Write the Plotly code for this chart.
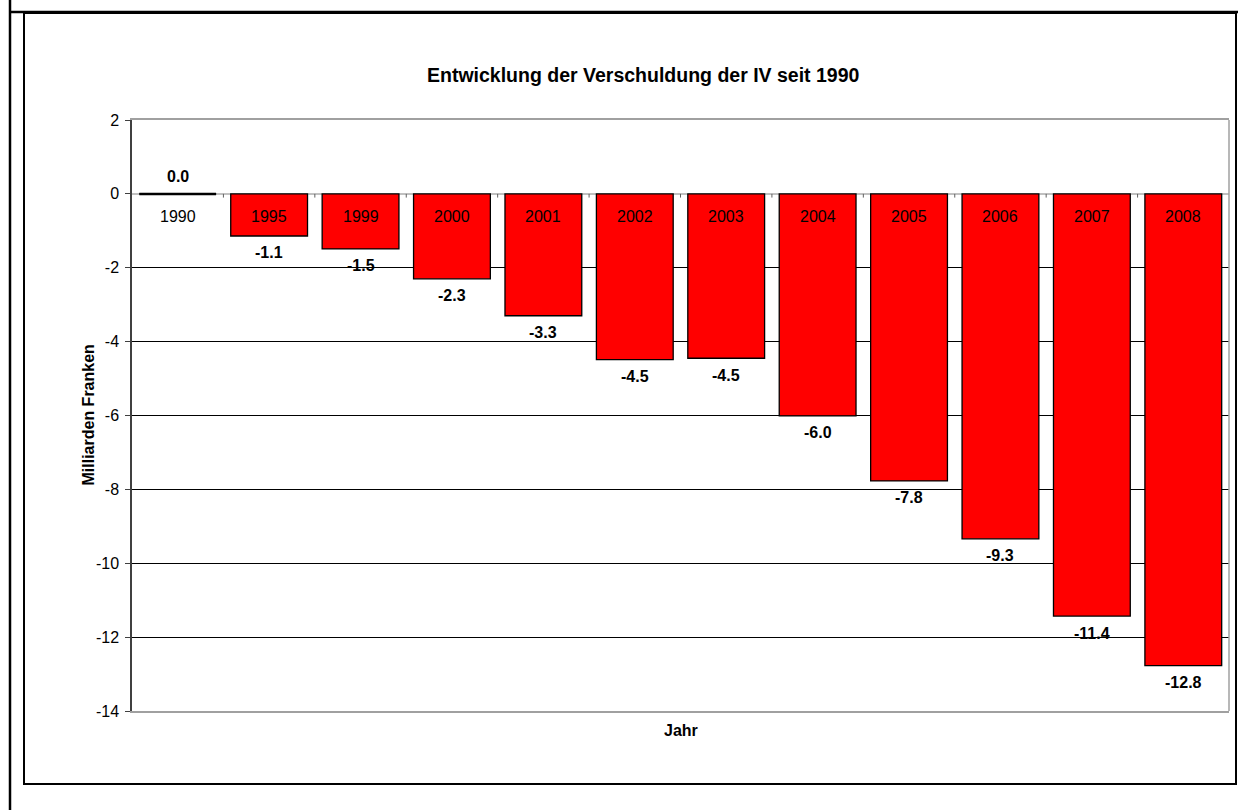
import plotly.graph_objects as go

categories = ["1990", "1995", "1999", "2000", "2001", "2002", "2003", "2004", "2005", "2006", "2007", "2008"]
values = [0.0, -1.14, -1.49, -2.3, -3.3, -4.49, -4.45, -6.01, -7.77, -9.34, -11.43, -12.77]
value_labels = ["0.0", "-1.1", "-1.5", "-2.3", "-3.3", "-4.5", "-4.5", "-6.0", "-7.8", "-9.3", "-11.4", "-12.8"]
y_ticks = [2, 0, -2, -4, -6, -8, -10, -12, -14]

FONT = "Liberation Sans, Arial, sans-serif"

FW, FH = 1238, 810

fig = go.Figure()
fig.add_trace(go.Bar(
    x=list(range(len(categories))),
    y=values,
    marker=dict(color="#ff0000", line=dict(color="black", width=1.3)),
    width=0.84,
    hoverinfo="skip",
))

# category labels inside bars
for i, c in enumerate(categories):
    fig.add_annotation(x=i, y=0, text=c, showarrow=False, yshift=-23,
                       font=dict(family=FONT, size=16, color="black"))
# value labels
for i, (v, t) in enumerate(zip(values, value_labels)):
    fig.add_annotation(x=i, y=v, text="<b>" + t + "</b>", showarrow=False,
                       yshift=17 if v >= 0 else -17,
                       font=dict(family=FONT, size=16, color="black"))

# zero-height bar shown as a line for 1990
for i, v in enumerate(values):
    if v == 0:
        fig.add_shape(type="line", xref="x", yref="y", x0=i - 0.42, x1=i + 0.42, y0=0, y1=0,
                      line=dict(color="black", width=2.5))

# category boundary ticks on zero line
for i in range(len(categories) - 1):
    fig.add_shape(type="line", xref="x", yref="y", x0=i + 0.5, x1=i + 0.5, y0=0, y1=-0.1,
                  line=dict(color="#606060", width=1))

L, R, T, B = 132, 1229, 120, 711
W, H = R - L, B - T
def px(x):
    return (x - L) / W
def py(y):
    return (B - y) / H

# frames
fig.add_shape(type="line", xref="paper", yref="paper", x0=px(10), x1=px(10), y0=py(0), y1=py(810),
              line=dict(color="black", width=2.5))
fig.add_shape(type="line", xref="paper", yref="paper", x0=px(10), x1=px(1238), y0=py(12), y1=py(12),
              line=dict(color="black", width=2.5))
fig.add_shape(type="rect", xref="paper", yref="paper", x0=px(24), x1=px(1236), y0=py(13), y1=py(784),
              line=dict(color="black", width=2))
# right border of plot area
fig.add_shape(type="line", xref="paper", yref="paper", x0=1, x1=1, y0=0, y1=1,
              line=dict(color="#a0a0a0", width=1.5))

fig.add_annotation(xref="paper", yref="paper", x=px(643), y=py(62), text="<b>Entwicklung der Verschuldung der IV seit 1990</b>",
                   showarrow=False, font=dict(family=FONT, size=19.5, color="black"))
fig.add_annotation(xref="paper", yref="paper", x=px(681), y=py(741), text="<b>Jahr</b>",
                   showarrow=False, font=dict(family=FONT, size=16, color="black"))
fig.add_annotation(xref="paper", yref="paper", x=px(77), y=py(415), text="<b>Milliarden Franken</b>",
                   showarrow=False, textangle=-90, font=dict(family=FONT, size=16, color="black"))

fig.update_layout(
    width=FW, height=FH,
    margin=dict(l=L, r=FW - R, t=T, b=FH - B),
    paper_bgcolor="white", plot_bgcolor="white",
    showlegend=False,
    font=dict(family=FONT, size=16, color="black"),
    xaxis=dict(range=[-0.5, len(categories) - 0.5], showticklabels=False, ticks="",
               showgrid=False, zeroline=False, showline=True, mirror=True,
               linecolor="#a0a0a0", linewidth=1.5, fixedrange=True),
    yaxis=dict(range=[-14, 2], tickvals=y_ticks, ticktext=[str(v) for v in y_ticks],
               showgrid=True, gridcolor="black", gridwidth=1,
               zeroline=True, zerolinecolor="#c0c0c0", zerolinewidth=1.5,
               showline=True, linecolor="#404040", linewidth=1.5,
               ticks="outside", ticklen=5, tickcolor="#404040", ticklabelstandoff=3,
               tickfont=dict(family=FONT, size=16), fixedrange=True),
)

fig.write_html("out.html", config={"displayModeBar": False},
               post_script="document.body.style.margin='0';document.body.style.overflow='hidden';")
